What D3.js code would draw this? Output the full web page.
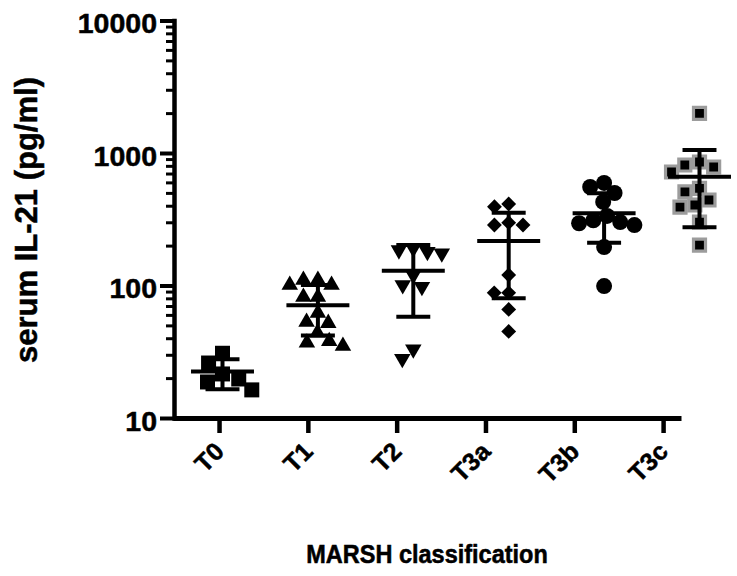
<!DOCTYPE html>
<html>
<head>
    <meta charset="utf-8">
    <title>Serum IL-21 by MARSH classification</title>
    <style>
        body { margin: 0; background: #fff; }
        svg text { font-family: "Liberation Sans", Arial, sans-serif; font-weight: bold; fill: #000; stroke: #000; stroke-width: 0.5px; }
    </style>
</head>
<body>
    <script src="https://cdnjs.cloudflare.com/ajax/libs/d3/7.9.0/d3.min.js"></script>
    <script>

        const width = 737;
        const height = 576;

        // values (pg/ml)
        const categories = ["T0", "T1", "T2", "T3a", "T3b", "T3c"];
        const valuesT0 = [30.8, 26, 21.5, 19.7, 18.7, 16.3];
        const valuesT1 = [110, 110, 101, 101, 82, 82, 62, 53, 52, 44, 38, 37, 35];
        const valuesT2 = [191, 185, 180, 175, 120, 101, 98, 33, 28];
        const valuesT3a = [412, 393, 298, 286, 286, 120, 88, 88, 66, 45];
        const valuesT3b = [594, 554, 499, 427, 335, 310, 301, 295, 286, 195, 99];
        const valuesT3c = [1994, 855, 812, 784, 719, 541, 508, 442, 405, 391, 301, 202];

        // mean and SD bar ends as drawn
        const meanVals = [22.4, 71, 129, 217, 351, 663];
        const sdUpper = [27.7, 101, 202, 354, 497, 1054];
        const sdLower = [16.5, 42, 58, 80, 210, 275];

        const yTicks = [10, 100, 1000, 10000];

        const groups = [valuesT0, valuesT1, valuesT2, valuesT3a, valuesT3b, valuesT3c];

        const markers = [
            {type: d3.symbolSquare, size: 225, rotate: 0, gap: 17},
            {type: d3.symbolTriangle, size: 118, rotate: 0, gap: 14.5},
            {type: d3.symbolTriangle, size: 118, rotate: 180, gap: 14.5},
            {type: d3.symbolSquare, size: 110, rotate: 45, gap: 14.5},
            {type: d3.symbolCircle, size: 200, rotate: 0, gap: 14.5},
            {type: d3.symbolSquare, size: 144, rotate: 0, gap: 15, stroke: "#9c9c9c", strokeWidth: 3.2}
        ];

        const svg = d3.select("body")
            .append("svg")
            .attr("width", width)
            .attr("height", height);

        const y = d3.scaleLog()
            .domain([10, 10000])
            .range([418, 20.5]);

        // axis ticks and the data columns do not line up in the picture
        const xAxisScale = d3.scalePoint()
            .domain(categories)
            .range([173, 681])
            .padding(0.36)
            .align(0.72);

        const xData = d3.scalePoint()
            .domain(categories)
            .range([222.5, 699.5]);

        // simple beeswarm so overlapping points sit side by side
        function swarm(vals, dia) {
            const pts = vals.map(v => ({v: v, py: y(v)})).sort((a, b) => a.py - b.py);
            const placed = [];
            pts.forEach(p => {
                const cands = [0];
                placed.forEach(q => {
                    const dy = Math.abs(q.py - p.py);
                    if (dy < dia) {
                        const dx = Math.sqrt(dia * dia - dy * dy);
                        cands.push(q.dx - dx, q.dx + dx);
                    }
                });
                cands.sort((a, b) => Math.abs(a) - Math.abs(b) || a - b);
                p.dx = cands.find(c => placed.every(q => (q.dx - c) ** 2 + (q.py - p.py) ** 2 >= dia * dia - 0.01));
                placed.push(p);
            });
            return placed;
        }

        // y axis: major + minor ticks
        const minorTicks = y.ticks().filter(t => !yTicks.includes(t));

        svg.append("g")
            .attr("transform", "translate(174,0)")
            .call(d3.axisLeft(y).tickValues(minorTicks).tickSize(8).tickFormat(""))
            .call(g => g.select(".domain").remove())
            .call(g => g.selectAll(".tick line").attr("stroke", "#000").attr("stroke-width", 3));

        svg.append("g")
            .attr("transform", "translate(174,0)")
            .call(d3.axisLeft(y).tickValues(yTicks).tickSize(14).tickSizeOuter(0)
                .tickFormat(d3.format("d")).tickPadding(3))
            .call(g => g.select(".domain").attr("stroke", "#000").attr("stroke-width", 4.5).attr("stroke-linecap", "square"))
            .call(g => g.selectAll(".tick line").attr("stroke", "#000").attr("stroke-width", 4))
            .call(g => g.selectAll(".tick text")
                .attr("dy", "0.43em")
                .style("font-size", "28.5px"));

        // x axis
        svg.append("g")
            .attr("transform", "translate(0,418)")
            .call(d3.axisBottom(xAxisScale).tickSize(15).tickSizeOuter(0))
            .call(g => g.select(".domain").attr("stroke", "#000").attr("stroke-width", 5))
            .call(g => g.selectAll(".tick line").attr("stroke", "#000").attr("stroke-width", 4.5))
            .call(g => g.selectAll(".tick text")
                .attr("x", null).attr("y", null).attr("dy", null)
                .attr("text-anchor", "end")
                .attr("transform", "translate(6,35) rotate(-45)")
                .style("font-size", "25px"));

        // points
        groups.forEach((vals, i) => {
            const m = markers[i];
            const sym = d3.symbol().type(m.type).size(m.size);
            const cx = xData(categories[i]);
            svg.append("g")
                .selectAll("path")
                .data(swarm(vals, m.gap))
                .join("path")
                .attr("d", sym)
                .attr("transform", d => `translate(${cx + d.dx},${d.py}) rotate(${m.rotate})`)
                .attr("fill", "#000")
                .attr("stroke", m.stroke || "none")
                .attr("stroke-width", m.strokeWidth || 0);
        });

        // mean +/- SD
        const step = xData.step();
        const bars = svg.append("g")
            .attr("stroke", "#000")
            .attr("stroke-width", 4);

        categories.forEach((c, i) => {
            const cx = xData(c);
            bars.append("line")
                .attr("x1", cx).attr("x2", cx)
                .attr("y1", y(sdLower[i])).attr("y2", y(sdUpper[i]));
            bars.append("line")
                .attr("x1", cx - step * 0.33).attr("x2", cx + step * 0.33)
                .attr("y1", y(meanVals[i])).attr("y2", y(meanVals[i]));
            [sdLower[i], sdUpper[i]].forEach(v => {
                bars.append("line")
                    .attr("x1", cx - step * 0.178).attr("x2", cx + step * 0.178)
                    .attr("y1", y(v)).attr("y2", y(v));
            });
        });

        // titles
        svg.append("text")
            .attr("transform", "translate(37,220) rotate(-90)")
            .attr("text-anchor", "middle")
            .style("font-size", "31px")
            .text("serum IL-21 (pg/ml)");

        svg.append("text")
            .attr("transform", "translate(427,563) scale(1,1.1)")
            .attr("text-anchor", "middle")
            .style("font-size", "23.5px")
            .text("MARSH classification");

    </script>
</body>
</html>
